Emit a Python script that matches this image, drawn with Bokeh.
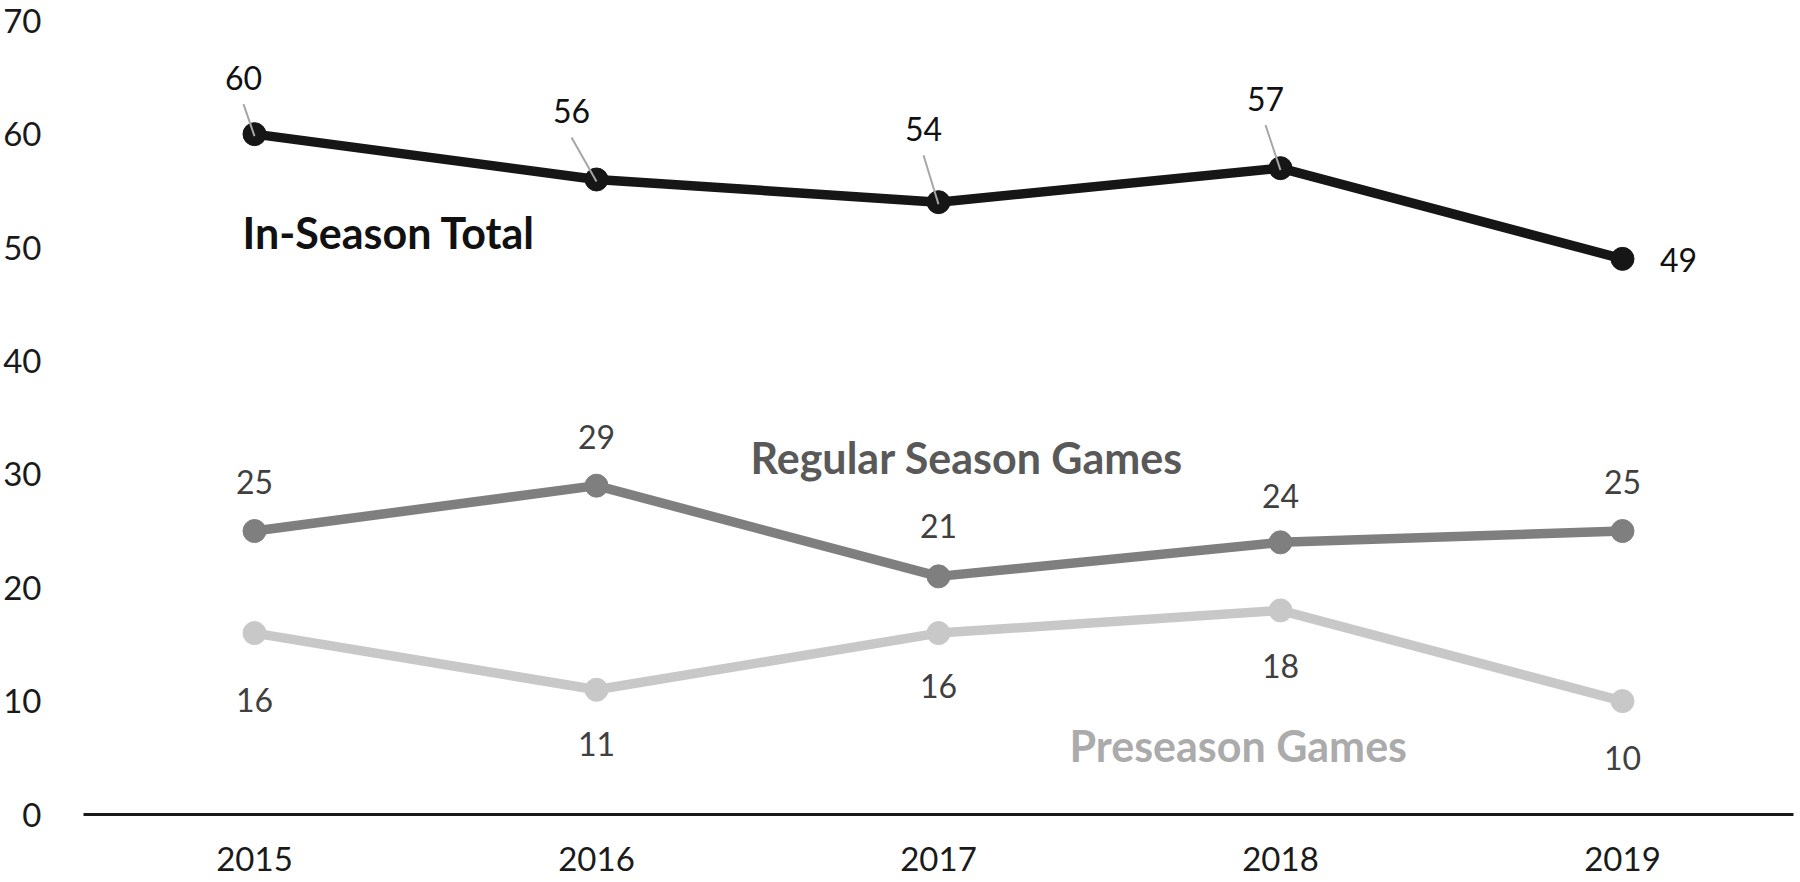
from bokeh.plotting import figure
from bokeh.models import Range1d, FixedTicker, ColumnDataSource
from bokeh.core.properties import value
from bokeh.embed import file_html
from bokeh.resources import INLINE

# ---------------- data ----------------
years = [2015, 2016, 2017, 2018, 2019]
in_season_total = [60, 56, 54, 57, 49]
regular_season = [25, 29, 21, 24, 25]
preseason = [16, 11, 16, 18, 10]
y_ticks = [0, 10, 20, 30, 40, 50, 60, 70]
series_names = ["In-Season Total", "Regular Season Games", "Preseason Games"]

# ---------------- layout / style ----------------
W, H = 1796, 880
FONT = "Lato"
C_TOTAL = "#161616"
C_REG = "#7f7f7f"
C_PRE = "#c8c8c8"

X0, X1 = 2014.5, 2019.5
Y0, Y1 = 0, 70.55
FRAME_L, FRAME_R, FRAME_T, FRAME_B = 79, 3, 14, 66
PX_X = (W - FRAME_L - FRAME_R) / (X1 - X0)
PX_Y = (H - FRAME_T - FRAME_B) / (Y1 - Y0)

# label offsets in screen px (dx, dy; dy positive = down) relative to each point
tot_dx = [-11, -25, -15, -15, 56]
tot_dy = [-56, -68, -73, -69, 1]
reg_dx = [0, 0, 0, 0, 0]
reg_dy = [-49, -49, -50, -46, -49]
pre_dx = [0, 0, 0, 0, 0]
pre_dy = [67, 54, 53, 56, 57]

p = figure(width=W, height=H, output_backend="svg", toolbar_location=None,
           x_range=Range1d(X0, X1), y_range=Range1d(Y0, Y1),
           min_border_left=FRAME_L, min_border_right=FRAME_R,
           min_border_top=FRAME_T, min_border_bottom=FRAME_B)
p.outline_line_color = None
p.xgrid.visible = False
p.ygrid.visible = False
p.background_fill_color = "white"
p.border_fill_color = "white"

# axes
p.xaxis.ticker = FixedTicker(ticks=years)
p.yaxis.ticker = FixedTicker(ticks=y_ticks)
for ax in (p.xaxis, p.yaxis):
    ax.major_tick_line_color = None
    ax.minor_tick_line_color = None
    ax.major_label_text_font = FONT
    ax.major_label_text_font_size = "33px"
    ax.major_label_text_color = "#1a1a1a"
p.xaxis.axis_line_color = "#1a1a1a"
p.xaxis.axis_line_width = 3
p.xaxis.major_label_standoff = 26
p.yaxis.axis_line_color = None
p.yaxis.major_label_standoff = 36

# lines + markers
for vals, col in ((preseason, C_PRE), (regular_season, C_REG), (in_season_total, C_TOTAL)):
    p.line(years, vals, line_color=col, line_width=9.5, line_join="round")
    p.scatter(years, vals, size=23, fill_color=col, line_color=col)

# leader lines for In-Season Total labels (label bottom -> point)
lx0, ly0, lx1, ly1 = [], [], [], []
for yr, v, dx, dy in zip(years, in_season_total, tot_dx, tot_dy):
    if dy < -20:
        lx0.append(yr + dx / PX_X)
        ly0.append(v - (dy + 26) / PX_Y)
        lx1.append(yr)
        ly1.append(v - 2 / PX_Y)
p.segment(lx0, ly0, lx1, ly1, line_color="#a6a6a6", line_width=2)

# data labels
def data_labels(vals, dxs, dys, color):
    src = ColumnDataSource(dict(x=years, y=vals, t=[str(v) for v in vals], dx=dxs, dy=dys))
    p.text(x="x", y="y", text="t", x_offset="dx", y_offset="dy", source=src,
           text_font=value(FONT), text_font_size="32px", text_color=color,
           text_align="center", text_baseline="middle")

data_labels(in_season_total, tot_dx, tot_dy, "#111111")
data_labels(regular_season, reg_dx, reg_dy, "#404040")
data_labels(preseason, pre_dx, pre_dy, "#404040")

# series names, anchored to data points with pixel offsets
name_anchor = [(years[0], in_season_total[0], -12, 98, "43px", "#111111"),
               (years[1], regular_season[1], 154, -28, "43px", "#595959"),
               (years[2], preseason[2], 131, 112, "43px", "#ababab")]
for name, (ax_, ay_, ox, oy, fs, col) in zip(series_names, name_anchor):
    p.text(x=[ax_], y=[ay_], text=[name], x_offset=ox, y_offset=oy,
           text_font=value(FONT), text_font_size=fs, text_font_style="bold",
           text_color=col, text_align="left", text_baseline="alphabetic")

open("out.html", "w").write(file_html(p, INLINE))
